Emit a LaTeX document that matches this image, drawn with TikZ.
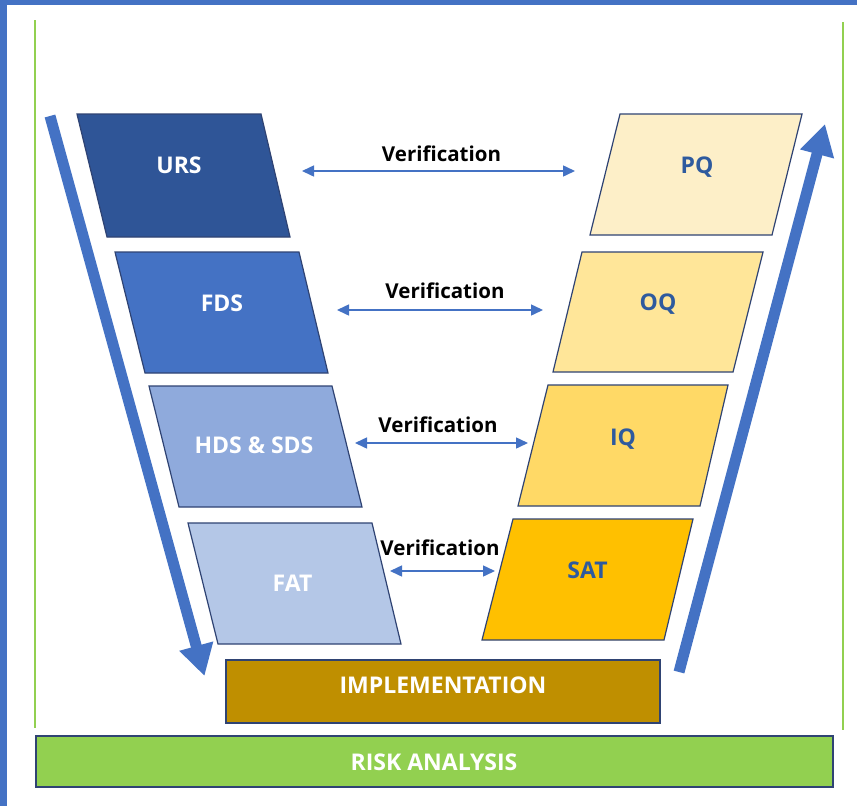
\documentclass[tikz,border=0pt]{standalone}
\usepackage{fontspec}
\setmainfont{Open Sans}
\usetikzlibrary{arrows.meta}
\definecolor{frameblue}{HTML}{4472C4}
\definecolor{linegreen}{HTML}{92D050}
\definecolor{boxborder}{HTML}{2F4373}
\definecolor{ursc}{HTML}{2F5597}
\definecolor{fdsc}{HTML}{4472C4}
\definecolor{hdsc}{HTML}{8FAADC}
\definecolor{fatc}{HTML}{B4C7E7}
\definecolor{pqc}{HTML}{FDEFC8}
\definecolor{oqc}{HTML}{FFE699}
\definecolor{iqc}{HTML}{FFD966}
\definecolor{satc}{HTML}{FFC000}
\definecolor{implc}{HTML}{BF8F00}
\definecolor{riskc}{HTML}{92D050}
\definecolor{rtext}{HTML}{2E5A9E}
\tikzset{
  shapebox/.style={draw=boxborder, line width=1.2pt, line join=miter},
  labtxt/.style={anchor=base, inner sep=0pt, font=\fontsize{23}{27}\selectfont\bfseries},
  lefttxt/.style={labtxt, text=white},
  righttxt/.style={labtxt, text=rtext},
  vertxt/.style={anchor=base, inner sep=0pt, font=\fontsize{20.5}{25}\selectfont\bfseries, text=black},
  verarrow/.style={draw=frameblue, line width=1.5pt, {Triangle[width=11pt,length=12pt]}-{Triangle[width=11pt,length=12pt]}},
  bigarrow/.style={draw=frameblue, line width=11pt, -{Triangle[width=33pt,length=31pt]}},
  greenline/.style={draw=linegreen, line width=2pt}
}
\begin{document}
\begin{tikzpicture}[x=1pt,y=-1pt]
\useasboundingbox (0,0) rectangle (857,806);
\fill[white] (0,0) rectangle (857,806);
\fill[frameblue] (0,0) rectangle (7,806);
\fill[frameblue] (0,0) rectangle (857,5);
% green side lines
\draw[greenline] (35,20) -- (35,728);
\draw[greenline] (843,22) -- (843,730);
% left parallelograms
\path[shapebox, fill=ursc] (77,114) -- (261,114) -- (290,237) -- (107,237) -- cycle;
\path[shapebox, fill=fdsc] (115,252) -- (299,252) -- (328,373) -- (145,373) -- cycle;
\path[shapebox, fill=hdsc] (149,386) -- (332,386) -- (362,507) -- (179,507) -- cycle;
\path[shapebox, fill=fatc] (188,523) -- (372,523) -- (401,644) -- (218,644) -- cycle;
% right parallelograms
\path[shapebox, fill=pqc] (620,114) -- (802,114) -- (772,235) -- (590,235) -- cycle;
\path[shapebox, fill=oqc] (582,252) -- (763,252) -- (733,372) -- (553,372) -- cycle;
\path[shapebox, fill=iqc] (548,385) -- (728,385) -- (700,506) -- (518,506) -- cycle;
\path[shapebox, fill=satc] (513,519) -- (693,519) -- (664,640) -- (482,640) -- cycle;
% bars
\path[shapebox, fill=implc] (226,660) rectangle (660,723);
\path[shapebox, fill=riskc] (36,736) rectangle (833,787);
% labels
\node[lefttxt] (urs) at (179,173) {URS};
\node[lefttxt] (fds) at (222,311.5) {FDS};
\node[lefttxt] (hds) at (254,453) {HDS \& SDS};
\node[lefttxt] (fat) at (292.5,591.5) {FAT};
\node[righttxt] (pq) at (697,173) {PQ};
\node[righttxt] (oq) at (658,310) {OQ};
\node[righttxt] (iq) at (623,445) {IQ};
\node[righttxt] (sat) at (587.5,578) {SAT};
\node[labtxt, text=white] (impl) at (443,693) {IMPLEMENTATION};
\node[labtxt, text=white] (risk) at (434,770) {RISK ANALYSIS};
% verification labels
\node[vertxt] (v1) at (441.5,161.5) {Verification};
\node[vertxt] (v2) at (445,298) {Verification};
\node[vertxt] (v3) at (438,432) {Verification};
\node[vertxt] (v4) at (440,555) {Verification};
% verification arrow end points
\coordinate (a1l) at (302,171); \coordinate (a1r) at (575,171);
\coordinate (a2l) at (337,310); \coordinate (a2r) at (543,310);
\coordinate (a3l) at (355,443); \coordinate (a3r) at (528,443);
\coordinate (a4l) at (390,571); \coordinate (a4r) at (495,571);
\draw[verarrow] (a1l) -- (a1r);
\draw[verarrow] (a2l) -- (a2r);
\draw[verarrow] (a3l) -- (a3r);
\draw[verarrow] (a4l) -- (a4r);
% big arrows
\coordinate (ldown0) at (50,116); \coordinate (ldown1) at (204.5,676);
\coordinate (rup0) at (679,672); \coordinate (rup1) at (825,124);
\draw[bigarrow] (ldown0) -- (ldown1);
\draw[bigarrow] (rup0) -- (rup1);
\end{tikzpicture}
\end{document}
